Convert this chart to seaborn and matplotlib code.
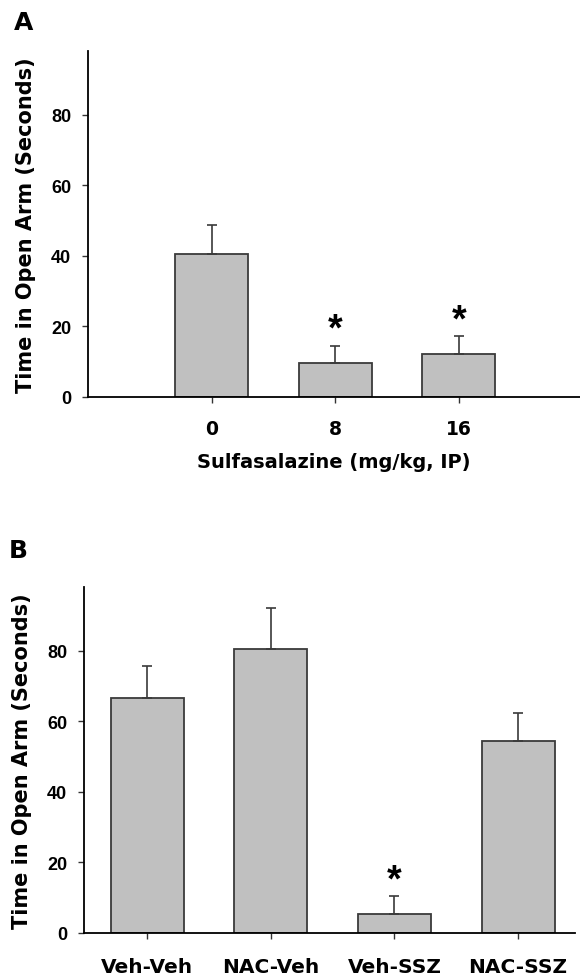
import matplotlib
matplotlib.use("Agg")
import matplotlib.pyplot as plt
import seaborn as sns
import pandas as pd

# Panel A data
dose_labels = ["0", "8", "16"]
dose_means = [40.5, 9.6, 12.2]
dose_sem = [8.2, 4.8, 5.0]
dose_sig = [False, True, True]

# Panel B data
group_labels = ["Veh-Veh", "NAC-Veh", "Veh-SSZ", "NAC-SSZ"]
group_means = [66.6, 80.5, 5.3, 54.3]
group_sem = [8.9, 11.6, 5.1, 8.0]
group_sig = [False, False, True, False]

y_ticks = [0, 20, 40, 60, 80]

sns.set_style("white")
plt.rcParams["font.family"] = ["DejaVu Sans"]
plt.rcParams["font.weight"] = "bold"
plt.rcParams["text.color"] = "black"
plt.rcParams["axes.labelcolor"] = "black"
plt.rcParams["xtick.color"] = "black"
plt.rcParams["ytick.color"] = "black"

NUM_FONT = ["Liberation Sans", "DejaVu Sans"]

fig = plt.figure(figsize=(5.8, 9.79), dpi=100)
axA = fig.add_axes([88 / 580, 1 - 398 / 979, 492 / 580, 346 / 979])
axB = fig.add_axes([84 / 580, 1 - 934 / 979, 491 / 580, 346 / 979])

bar_fill = "#c0c0c0"
edge = "#3a3a3a"


def draw(ax, labels, means, sems, sig, xlim):
    df = pd.DataFrame({"cat": labels, "val": means})
    sns.barplot(data=df, x="cat", y="val", color=bar_fill, saturation=1,
                width=0.59, edgecolor=edge, linewidth=1.3, errorbar=None, ax=ax)
    xs = list(range(len(labels)))
    ax.errorbar(xs, means, yerr=[[0] * len(means), sems], fmt="none",
                ecolor=edge, elinewidth=1.2, capsize=3.6, capthick=1.2, zorder=1)
    for x, m, s, g in zip(xs, means, sems, sig):
        if g:
            ax.text(x, m + s - 0.5, "*", ha="center", va="bottom",
                    fontsize=27, fontweight="bold", color="black",
                    family=NUM_FONT)
    ax.set_xlim(*xlim)
    ax.set_ylim(0, 98)
    ax.set_yticks(y_ticks)
    ax.set_yticklabels([str(t) for t in y_ticks], fontsize=13, fontweight="bold",
                       family=NUM_FONT)
    ax.set_ylabel("Time in Open Arm (Seconds)", fontsize=15, fontweight="bold",
                  labelpad=11)
    for side in ["top", "right"]:
        ax.spines[side].set_visible(False)
    for side in ["left", "bottom"]:
        ax.spines[side].set_color("black")
        ax.spines[side].set_linewidth(1.3)
    ax.tick_params(axis="both", which="both", direction="out", length=4,
                   width=1.0, color="#333333", left=True, bottom=True)
    ax.tick_params(axis="y", pad=8)


draw(axA, dose_labels, dose_means, dose_sem, dose_sig, (-1.0, 2.98))
axA.set_xticks(range(len(dose_labels)))
axA.set_xticklabels(dose_labels, fontsize=13.5, fontweight="bold")
axA.tick_params(axis="x", pad=12)
axA.set_xlabel("Sulfasalazine (mg/kg, IP)", fontsize=14, fontweight="bold",
               labelpad=10)

draw(axB, group_labels, group_means, group_sem, group_sig, (-0.51, 3.46))
axB.set_xticks(range(len(group_labels)))
axB.set_xticklabels(group_labels, fontsize=14.5, fontweight="bold")
axB.tick_params(axis="x", pad=13)
axB.set_xlabel("")

fig.text(14 / 580, 1 - 30 / 979, "A", fontsize=18, fontweight="bold")
fig.text(9 / 580, 1 - 558 / 979, "B", fontsize=18, fontweight="bold")

fig.savefig("out.png", dpi=100)
